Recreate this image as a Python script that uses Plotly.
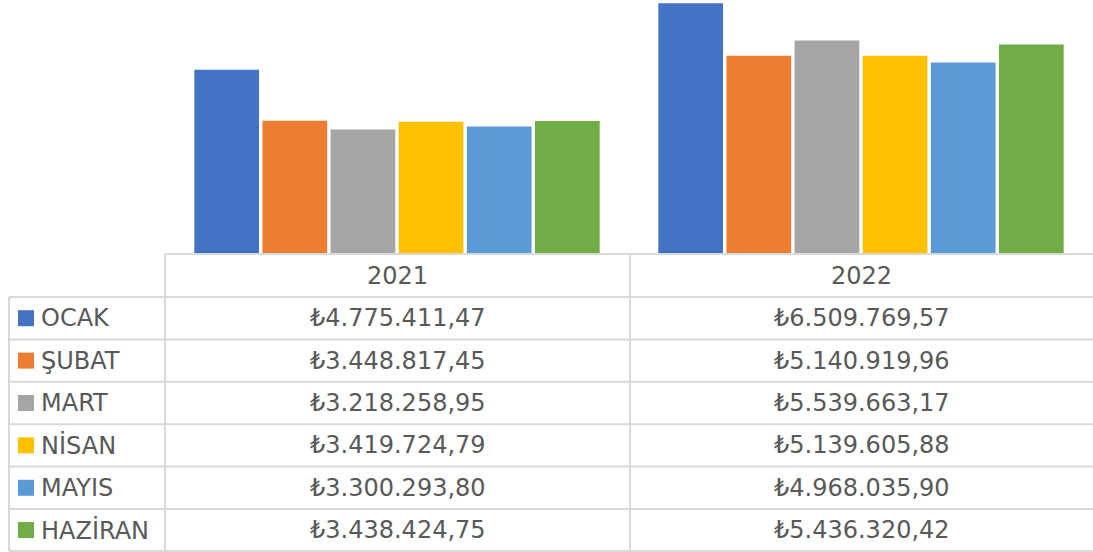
import plotly.graph_objects as go

# data
years = ["2021", "2022"]
months = ["OCAK", "ŞUBAT", "MART", "NİSAN", "MAYIS", "HAZİRAN"]
values_2021 = [4775411.47, 3448817.45, 3218258.95, 3419724.79, 3300293.80, 3438424.75]
values_2022 = [6509769.57, 5140919.96, 5539663.17, 5139605.88, 4968035.90, 5436320.42]
colors = ["#4472C4", "#ED7D31", "#A5A5A5", "#FFC000", "#5B9BD5", "#70AD47"]

W, H = 1093, 552
FONT = "DejaVu Sans"
FS = 24
TXT = "#595959"
GRID = "#D9D9D9"


def px(x):
    return x / W


def py(y):
    return 1 - y / H


def tl(v):
    # türk lirası biçimi: ₺1.234.567,89
    s = f"{v:,.2f}".replace(",", "X").replace(".", ",").replace("X", ".")
    return "₺" + s


fig = go.Figure()
for i, m in enumerate(months):
    fig.add_trace(go.Bar(
        x=years,
        y=[values_2021[i], values_2022[i]],
        name=m,
        marker=dict(color=colors[i], line=dict(width=0)),
        showlegend=False,
    ))

# tablo çizgileri
shapes = []
line = dict(color=GRID, width=2)
row_y = [297, 339.4, 381.8, 424.2, 466.6, 509, 551]
shapes.append(dict(type="line", xref="paper", yref="paper", x0=px(165), x1=1, y0=py(254), y1=py(254), line=line))
for y in row_y:
    shapes.append(dict(type="line", xref="paper", yref="paper", x0=px(9), x1=1, y0=py(y), y1=py(y), line=line))
shapes.append(dict(type="line", xref="paper", yref="paper", x0=px(9), x1=px(9), y0=py(297), y1=py(551), line=line))
for x in [165, 630]:
    shapes.append(dict(type="line", xref="paper", yref="paper", x0=px(x), x1=px(x), y0=py(254), y1=py(551), line=line))

annotations = []
col_x = [397.5, 861.5]
for j, yr in enumerate(years):
    annotations.append(dict(x=px(col_x[j]), y=py(276), xref="paper", yref="paper", text=yr,
                            showarrow=False, xanchor="center", yanchor="middle",
                            font=dict(family=FONT, size=FS, color=TXT)))
for i, m in enumerate(months):
    yc = (row_y[i] + row_y[i + 1]) / 2
    shapes.append(dict(type="rect", xref="paper", yref="paper", x0=px(18), x1=px(34),
                       y0=py(yc - 8), y1=py(yc + 8), fillcolor=colors[i], line=dict(width=0)))
    annotations.append(dict(x=px(39), y=py(yc), xref="paper", yref="paper", text=m,
                            showarrow=False, xanchor="left", yanchor="middle",
                            font=dict(family=FONT, size=FS, color=TXT)))
    for j, vals in enumerate([values_2021, values_2022]):
        annotations.append(dict(x=px(col_x[j]), y=py(yc), xref="paper", yref="paper", text=tl(vals[i]),
                                showarrow=False, xanchor="center", yanchor="middle",
                                font=dict(family=FONT, size=FS, color=TXT)))

fig.update_layout(
    width=W, height=H,
    margin=dict(l=0, r=0, t=0, b=0),
    paper_bgcolor="white", plot_bgcolor="white",
    barmode="group", bargap=0.119, bargroupgap=0.05,
    xaxis=dict(domain=[px(165), 1], showticklabels=False, showgrid=False, zeroline=False,
               showline=False, ticks=""),
    yaxis=dict(domain=[py(253), 1], range=[0, 6596000], showticklabels=False, showgrid=False,
               zeroline=False, showline=False, ticks=""),
    shapes=shapes,
    annotations=annotations,
    font=dict(family=FONT, color=TXT),
)

fig.write_html("out.html", config={"displayModeBar": False},
               post_script="document.body.style.margin='0';document.body.style.overflow='hidden';")
